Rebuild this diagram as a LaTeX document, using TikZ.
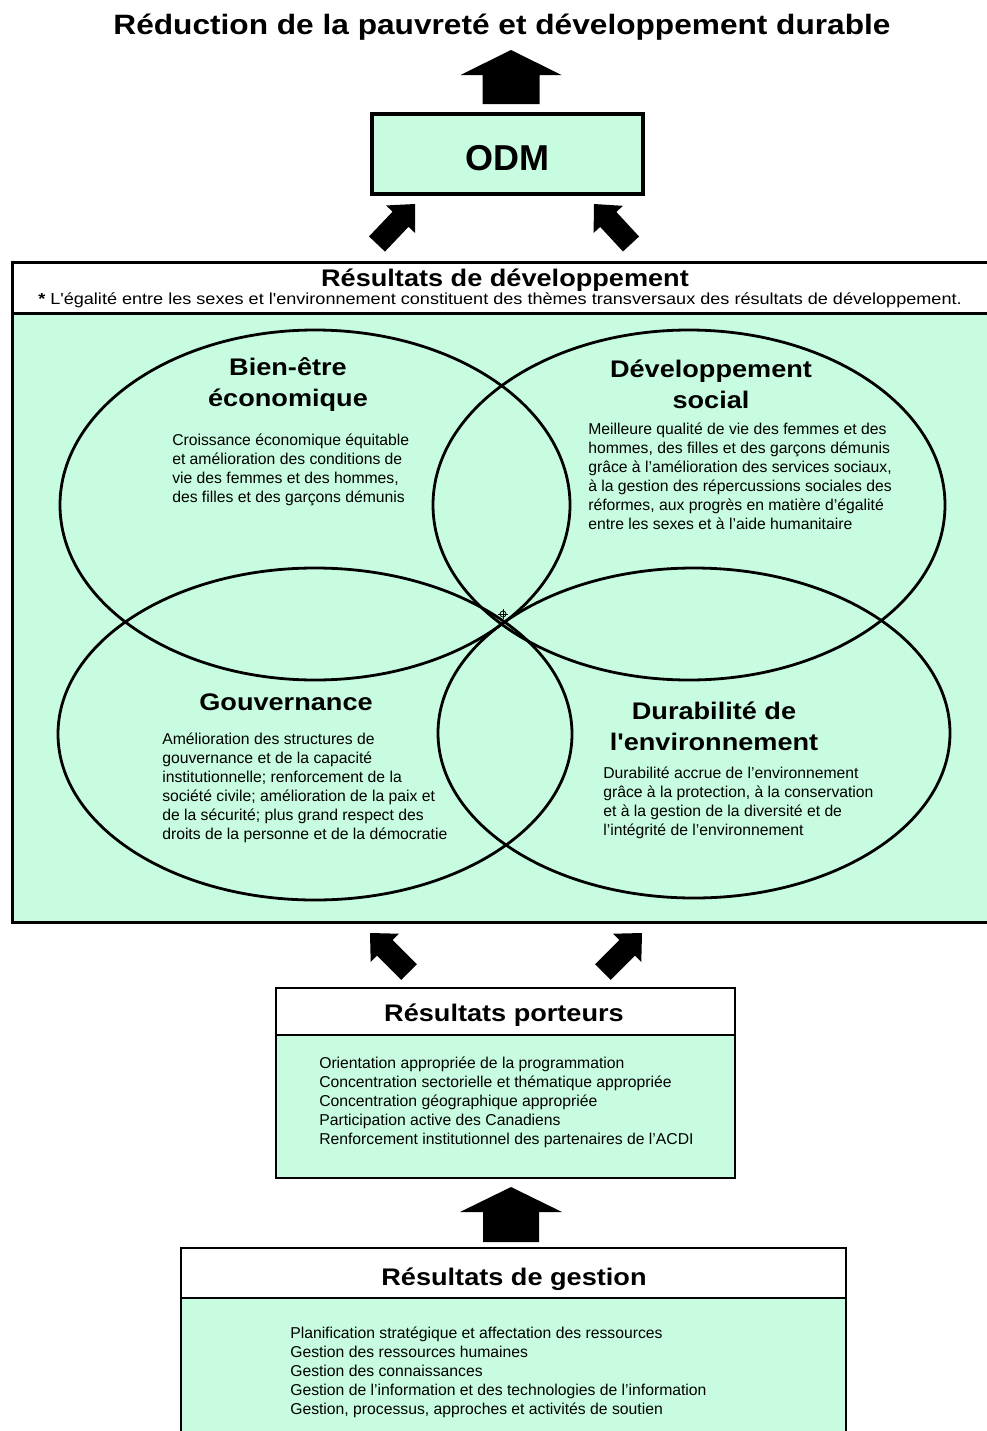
\documentclass[tikz,border=0pt]{standalone}
\usepackage{fontspec}
\setmainfont{Liberation Sans}
\newfontfamily\hfont{Liberation Sans}[FakeStretch=1.13]
\usetikzlibrary{fit,calc,shapes.geometric}
\definecolor{mint}{RGB}{200,252,224}
\newcommand\blockarrow[5]{%
  \coordinate (ba) at ($(#2)!#5!(#1)$);
  \fill ($(#1)!#3!90:(#2)$) -- ($(ba)!#3!90:(#2)$) -- ($(ba)!#4!90:(#2)$) -- (#2)
     -- ($(ba)!#4!-90:(#2)$) -- ($(ba)!#3!-90:(#2)$) -- ($(#1)!#3!-90:(#2)$) -- cycle;}
\begin{document}
\begin{tikzpicture}[x=0.75pt, y=-0.75pt,
  boxw/.style={draw, line width=1.9pt, fill=white, inner sep=0pt},
  boxg/.style={draw, line width=1.9pt, fill=mint, inner sep=0pt},
  htitle/.style={inner sep=0pt, font=\hfont\bfseries\fontsize{18}{23.25}\selectfont},
  etitle/.style={anchor=north, inner sep=0pt, align=center, font=\hfont\bfseries\fontsize{18}{23.25}\selectfont},
  body/.style={anchor=north west, inner sep=0pt, align=left, font=\fontsize{11.8}{14.25}\selectfont},
  venn/.style={ellipse, draw, line width=2.1pt, inner sep=0pt}]
\useasboundingbox (0,0) rectangle (986,1431);

% title and top arrow
\node[htitle, anchor=base, font=\hfont\bfseries\fontsize{21}{25}\selectfont] (title) at (502,34) {Réduction de la pauvreté et développement durable};
\coordinate (a1t) at (511,104);
\coordinate (a1h) at (511,50);
\blockarrow{a1t}{a1h}{21.375pt}{37.875pt}{18.75pt}

% ODM
\node[boxg, line width=2.6pt, fit={(372,114)(643,194)}] (odm) {};
\node[anchor=base, inner sep=0pt, font=\bfseries\fontsize{27}{30}\selectfont] (odmtext) at (507,170) {ODM};

\coordinate (a2t) at (377,244);
\coordinate (a2h) at (415,204);
\blockarrow{a2t}{a2h}{8.25pt}{15pt}{15.75pt}
\coordinate (a3t) at (631,244);
\coordinate (a3h) at (594,204);
\blockarrow{a3t}{a3h}{8.25pt}{15pt}{15.75pt}

% development results
\node[boxg, line width=2.25pt, fit={(12,313)(990,922)}] (devbody) {};
\node[boxw, line width=2.25pt, fit={(12,262)(990,313)}] (devhead) {};
\node[htitle, anchor=base] (devtitle) at (505,286) {Résultats de développement};
\node[anchor=base, inner sep=0pt, font=\hfont\fontsize{12}{14}\selectfont] (note) at (500,304)
  {{\bfseries *} L'égalité entre les sexes et l'environnement constituent des thèmes transversaux des résultats de développement.};

\node[venn, minimum width=382.5pt, minimum height=262.5pt] (e1) at (315,505) {};
\node[venn, minimum width=384pt, minimum height=262.5pt] (e2) at (689,505) {};
\node[venn, minimum width=385.5pt, minimum height=249pt] (e3) at (315,734) {};
\node[venn, minimum width=384pt, minimum height=247.5pt] (e4) at (694,733) {};

\node[circle, draw, line width=0.6pt, inner sep=0pt, minimum size=4.5pt] (mark) at (503,614) {};
\draw[line width=0.6pt] ($(mark)+(0,-5)$) -- ($(mark)+(0,5)$) ($(mark)+(-5,0)$) -- ($(mark)+(5,0)$);

\node[etitle] (t1) at (288,351) {\rule{0pt}{18pt}Bien-être\\économique};
\node[body] (b1) at (172,429) {\rule{0pt}{12pt}Croissance économique équitable\\et amélioration des conditions de\\vie des femmes et des hommes,\\des filles et des garçons démunis};

\node[etitle] (t2) at (711,353) {\rule{0pt}{18pt}Développement\\social};
\node[body] (b2) at (588,418) {\rule{0pt}{12pt}Meilleure qualité de vie des femmes et des\\hommes, des filles et des garçons démunis\\grâce à l'amélioration des services sociaux,\\à la gestion des répercussions sociales des\\réformes, aux progrès en matière d'égalité\\entre les sexes et à l'aide humanitaire};

\node[htitle, anchor=base] (t3) at (286,710) {Gouvernance};
\node[body] (b3) at (162,728) {\rule{0pt}{12pt}Amélioration des structures de\\gouvernance et de la capacité\\institutionnelle; renforcement de la\\société civile; amélioration de la paix et\\de la sécurité; plus grand respect des\\droits de la personne et de la démocratie};

\node[etitle] (t4) at (714,695) {\rule{0pt}{18pt}Durabilité de\\l'environnement};
\node[body] (b4) at (603,762) {\rule{0pt}{12pt}Durabilité accrue de l'environnement\\grâce à la protection, à la conservation\\et à la gestion de la diversité et de\\l'intégrité de l'environnement};

\coordinate (a4t) at (409,972);
\coordinate (a4h) at (370,933);
\blockarrow{a4t}{a4h}{8.25pt}{15pt}{15.75pt}
\coordinate (a5t) at (603,972);
\coordinate (a5h) at (642,933);
\blockarrow{a5t}{a5h}{8.25pt}{15pt}{15.75pt}

% enabling results
\node[boxg, fit={(276,1035)(735,1178)}] (portbody) {};
\node[boxw, fit={(276,988)(735,1035)}] (porthead) {};
\node[htitle, anchor=base] (porttitle) at (504,1021) {Résultats porteurs};
\node[body] (b5) at (319,1052) {\rule{0pt}{12pt}Orientation appropriée de la programmation\\Concentration sectorielle et thématique appropriée\\Concentration géographique appropriée\\Participation active des Canadiens\\Renforcement institutionnel des partenaires de l'ACDI};

\coordinate (a6t) at (511,1242);
\coordinate (a6h) at (511,1187);
\blockarrow{a6t}{a6h}{21pt}{38.25pt}{18.75pt}

% management results
\node[boxg, fit={(181,1298)(846,1445)}] (gestbody) {};
\node[boxw, fit={(181,1248)(846,1298)}] (gesthead) {};
\node[htitle, anchor=base] (gesttitle) at (514,1285) {Résultats de gestion};
\node[body] (b6) at (290,1322) {\rule{0pt}{12pt}Planification stratégique et affectation des ressources\\Gestion des ressources humaines\\Gestion des connaissances\\Gestion de l'information et des technologies de l'information\\Gestion, processus, approches et activités de soutien};
\end{tikzpicture}
\end{document}
